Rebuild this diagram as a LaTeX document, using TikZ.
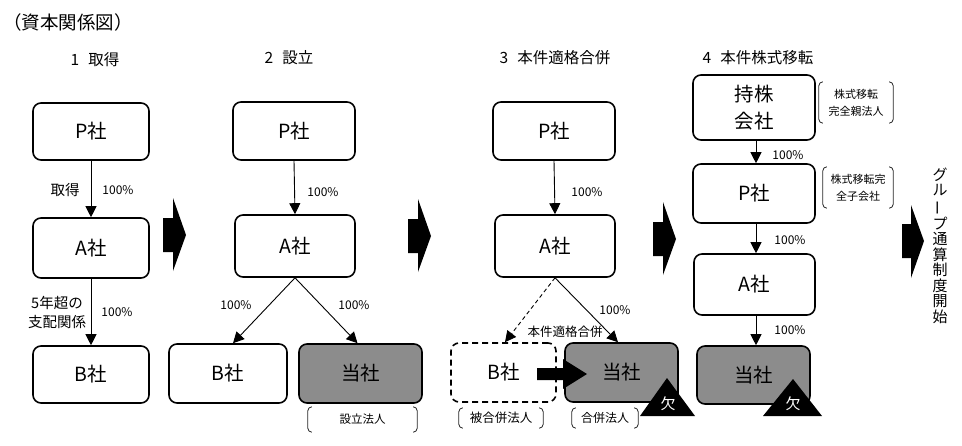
\documentclass[tikz,border=0pt]{standalone}
\usepackage{fontspec}
\setmainfont{Noto Sans CJK JP}
\usepackage{graphicx}
\usetikzlibrary{arrows.meta,calc}
\definecolor{boxgray}{RGB}{140,140,140}
\tikzset{
  co/.style={draw, line width=1.6pt, rounded corners=8pt, inner sep=0pt, align=center,
    font=\fontsize{19.5}{27}\selectfont},
  grayco/.style={co, fill=boxgray},
  dashco/.style={co, dash pattern=on 6pt off 4pt},
  arr/.style={line width=0.9pt, -{Triangle[width=11pt,length=11pt]}},
  darr/.style={arr, dash pattern=on 4pt off 3pt},
  pct/.style={font=\fontsize{12}{14}\selectfont, inner sep=0pt},
  lbl/.style={font=\fontsize{14.5}{19}\selectfont, inner sep=0pt, align=center},
  head/.style={font=\fontsize{15.5}{18}\selectfont, inner sep=0pt},
  brk/.style={inner sep=0pt, align=center, font=\fontsize{11.5}{17}\selectfont},
  brkline/.style={line width=0.8pt, draw=black!85},
  ketsu/.style={text=white, font=\fontsize{15}{17}\selectfont, inner sep=0pt},
  bigarrow/.style={fill=black}
}
\newcommand{\drawbrackets}[1]{%
  \draw[brkline] ([xshift=4pt]#1.north west) to[out=180,in=90] ([yshift=-4pt]#1.north west)
     -- ([yshift=4pt]#1.south west) to[out=-90,in=180] ([xshift=4pt]#1.south west);
  \draw[brkline] ([xshift=-4pt]#1.north east) to[out=0,in=90] ([yshift=-4pt]#1.north east)
     -- ([yshift=4pt]#1.south east) to[out=-90,in=0] ([xshift=-4pt]#1.south east);
}
\begin{document}
\begin{tikzpicture}[x=1pt,y=-1pt]
\useasboundingbox (0,0) rectangle (962,445);

% title and headings
\node[anchor=west, inner sep=0pt, font=\fontsize{18.5}{20}\selectfont] (title) at (3,22) {（資本関係図）};
\node[head] (h1) at (95,60) {1\hspace{0.6em}取得};
\node[head] (h2) at (289,58) {2\hspace{0.6em}設立};
\node[head] (h3) at (555,58) {3\hspace{0.6em}本件適格合併};
\node[head] (h4) at (758,58) {4\hspace{0.6em}本件株式移転};

% column 1
\node[co, minimum width=116pt, minimum height=57pt] (c1P) at (91,131.5) {P社};
\node[co, minimum width=116pt, minimum height=60pt] (c1A) at (91,248) {A社};
\node[co, minimum width=116pt, minimum height=57pt] (c1B) at (91,374.5) {B社};
\draw[arr] (c1P) -- (c1A);
\draw[arr] (c1A) -- (c1B);
\node[lbl] (l1a) at (65,190) {取得};
\node[pct] (p1a) at (118,190) {100\%};
\node[lbl] (l1b) at (57,312.5) {5年超の\\支配関係};
\node[pct] (p1b) at (117,312) {100\%};

% column 2
\node[co, minimum width=122pt, minimum height=58pt] (c2P) at (294,131) {P社};
\node[co, minimum width=120pt, minimum height=62pt] (c2A) at (295,246) {A社};
\node[co, minimum width=118pt, minimum height=59pt] (c2B) at (228,373.5) {B社};
\node[grayco, minimum width=123pt, minimum height=59pt] (c2T) at (360.5,373.5) {当社};
\draw[arr] (c2P.south) -- (c2A.north);
\draw[arr] (c2A.south) -- ([xshift=5pt]c2B.north);
\draw[arr] (c2A.south) -- ([xshift=-3pt]c2T.north);
\node[pct] (p2a) at (323,192) {100\%};
\node[pct] (p2b) at (236,305) {100\%};
\node[pct] (p2c) at (354,305) {100\%};
\node[brk, minimum width=109pt, minimum height=25pt] (b2) at (362.5,419.5) {設立法人};
\drawbrackets{b2}

% column 3
\node[co, minimum width=122pt, minimum height=58pt] (c3P) at (554,131) {P社};
\node[co, minimum width=120pt, minimum height=62pt] (c3A) at (555,246) {A社};
\node[dashco, minimum width=105pt, minimum height=59pt] (c3B) at (503.5,372.5) {B社};
\node[grayco, minimum width=113pt, minimum height=59pt] (c3T) at (621.5,372.5) {当社};
\draw[arr] (c3P.south) -- (c3A.north);
\draw[darr] (c3A.south) -- ([xshift=1.5pt]c3B.north);
\draw[arr] (c3A.south) -- ([xshift=-3.5pt]c3T.north);
\node[pct] (p3a) at (587,192) {100\%};
\node[pct] (p3b) at (615,310) {100\%};
\node[brk, font=\fontsize{12.5}{14}\selectfont] (l3) at (565,332) {本件適格合併};
\fill[bigarrow] (537,368) -- (563,368) -- (563,359) -- (587,374) -- (563,389) -- (563,380) -- (537,380) -- cycle;
\node[brk, minimum width=84pt, minimum height=20pt, font=\fontsize{12.5}{14}\selectfont] (b3a) at (501,418) {被合併法人};
\drawbrackets{b3a}
\node[brk, minimum width=66pt, minimum height=20pt, font=\fontsize{12}{14}\selectfont] (b3b) at (605,418) {合併法人};
\drawbrackets{b3b}
\fill (667,378) -- (695,416) -- (640,416) -- cycle;
\node[ketsu] (k3) at (668,404) {欠};

% column 4
\node[co, minimum width=122pt, minimum height=65pt] (c4H) at (754,107.5) {持株\\会社};
\node[co, minimum width=122pt, minimum height=59pt] (c4P) at (754,193.5) {P社};
\node[co, minimum width=121pt, minimum height=61pt] (c4A) at (754.5,284.5) {A社};
\node[grayco, minimum width=113pt, minimum height=58pt] (c4T) at (753.5,375) {当社};
\draw[arr] ([xshift=2pt]c4H.south) -- ([xshift=2pt]c4P.north);
\draw[arr] ([xshift=2pt]c4P.south) -- ([xshift=1.5pt]c4A.north);
\draw[arr] ([xshift=1.5pt]c4A.south) -- ([xshift=2.5pt]c4T.north);
\node[pct] (p4a) at (788,155) {100\%};
\node[pct] (p4b) at (790,240) {100\%};
\node[pct] (p4c) at (790,330) {100\%};
\node[brk, minimum width=74pt, minimum height=41pt, font=\fontsize{11}{17}\selectfont] (b4a) at (856,102.5) {株式移転\\完全親法人};
\drawbrackets{b4a}
\node[brk, minimum width=70pt, minimum height=41pt, font=\fontsize{11}{17}\selectfont] (b4b) at (858,187.5) {株式移転完\\全子会社};
\drawbrackets{b4b}
\fill (793,379) -- (822,416) -- (763,416) -- cycle;
\node[ketsu] (k4) at (793,404) {欠};

% big arrows between stages
\fill[bigarrow] (163,218) -- (173,218) -- (173,198) -- (186,235) -- (173,271) -- (173,252) -- (163,252) -- cycle;
\fill[bigarrow] (408,219) -- (418,219) -- (418,199) -- (431,236) -- (418,272) -- (418,253) -- (408,253) -- cycle;
\fill[bigarrow] (653,222) -- (663,222) -- (663,202) -- (676,239) -- (663,275) -- (663,256) -- (653,256) -- cycle;
\fill[bigarrow] (902,224) -- (911,224) -- (911,205) -- (924,241) -- (911,278) -- (911,258) -- (902,258) -- cycle;

% vertical text
\node[inner sep=0pt, align=center, font=\fontsize{15}{15.5}\selectfont] (vt) at (940,245.5)
  {グ\\ル\\\rotatebox[origin=c]{90}{ー}\\プ\\通\\算\\制\\度\\開\\始};
\end{tikzpicture}
\end{document}
